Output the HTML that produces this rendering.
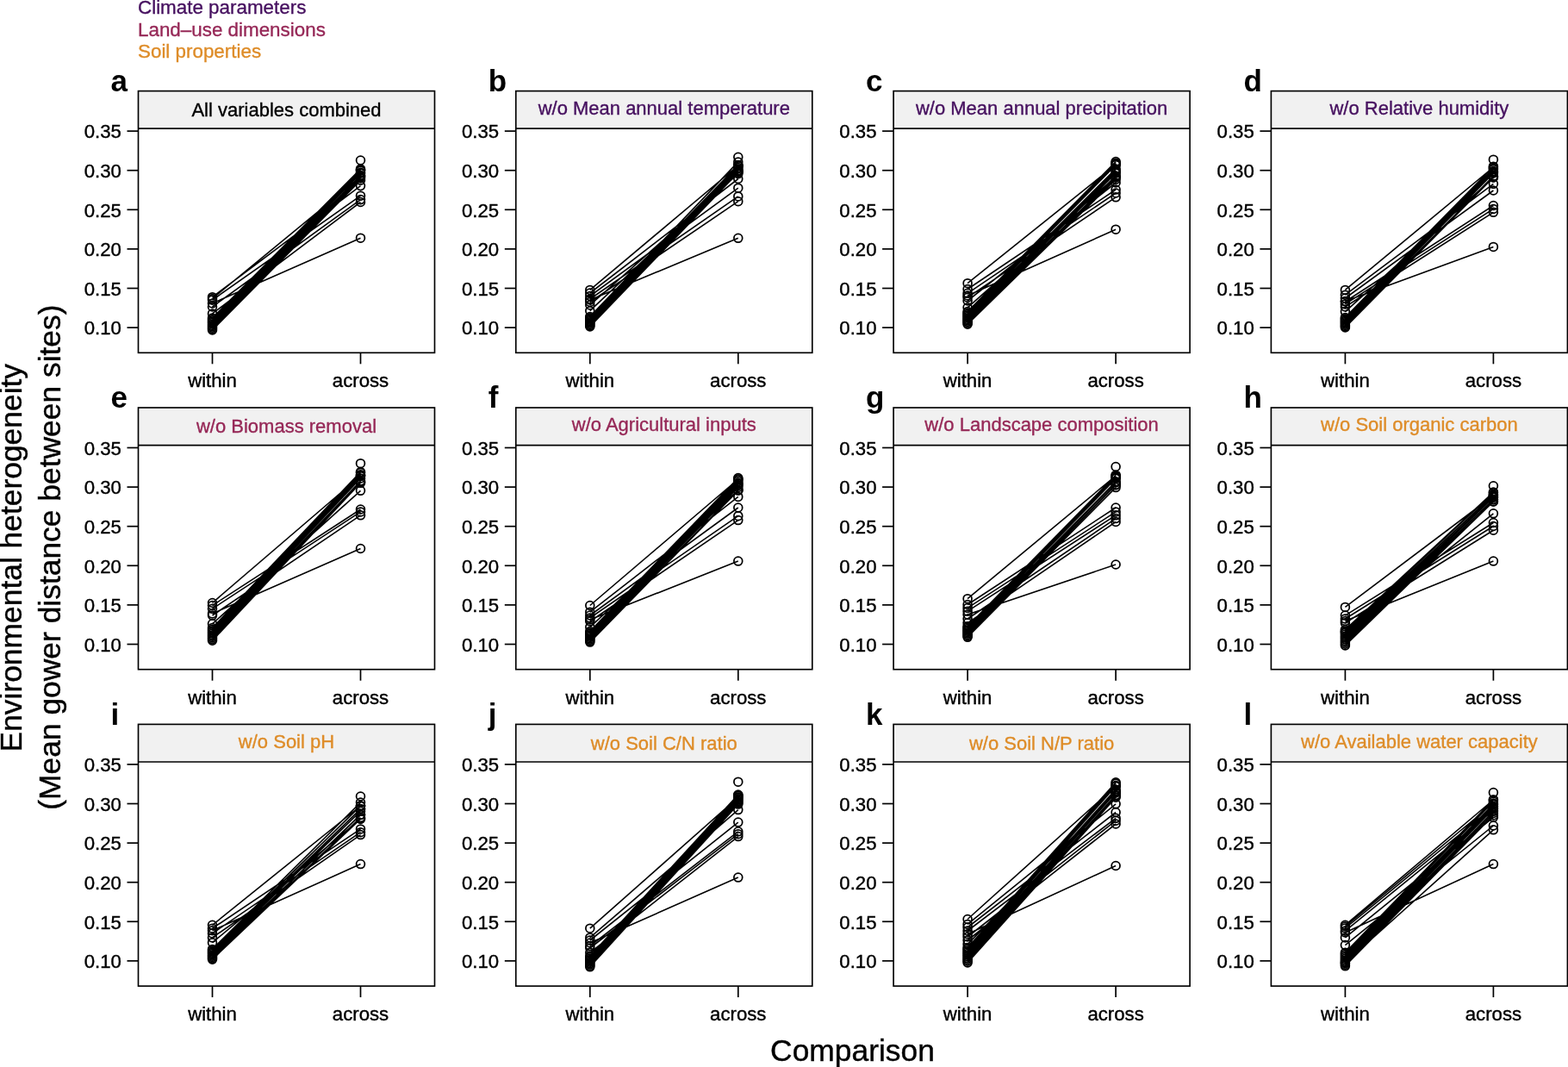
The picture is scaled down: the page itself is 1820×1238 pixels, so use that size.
<!DOCTYPE html>
<html><head><meta charset="utf-8"><title>Environmental heterogeneity</title>
<style>
html,body{margin:0;padding:0;background:#fff;}
body{width:1820px;height:1238px;overflow:hidden;}
svg{display:block;}
text{font-family:"Liberation Sans",Arial,Helvetica,sans-serif;}
.tk{font-size:22.2px;fill:#000;stroke:#000;stroke-width:0.4px;}
.st{font-size:22px;stroke-width:0.35px;}
.pl{font-size:35px;font-weight:bold;fill:#000;}
.ax{font-size:35.4px;fill:#000;stroke:#000;stroke-width:0.4px;}
.lg{font-size:22.4px;stroke-width:0.35px;}
.fr{fill:none;stroke:#000;stroke-width:1.65;}
.dl{stroke:#000;stroke-width:1.6;fill:none;}
.pt{fill:none;stroke:#000;stroke-width:1.75;}
</style></head><body>
<svg width="1820" height="1238" viewBox="0 0 1820 1238">
<rect x="0" y="0" width="1820" height="1238" fill="#fff"/>

<text class="lg" x="160" y="16.2" fill="#46105f" stroke="#46105f">Climate parameters</text>
<text class="lg" x="160" y="41.8" fill="#962857" stroke="#962857">Land–use dimensions</text>
<text class="lg" x="160" y="66.6" fill="#de8c28" stroke="#de8c28">Soil properties</text>
<g><rect x="160.5" y="105.6" width="344" height="43.6" fill="#f1f1f1"/><text class="st" x="332.5" y="135" text-anchor="middle" fill="#000" stroke="#000">All variables combined</text><text class="pl" x="128.5" y="105.9">a</text><line x1="147.5" y1="380.1" x2="160.5" y2="380.1" stroke="#000" stroke-width="1.7"/><text class="tk" x="140.9" y="388.4" text-anchor="end">0.10</text><line x1="147.5" y1="334.5" x2="160.5" y2="334.5" stroke="#000" stroke-width="1.7"/><text class="tk" x="140.9" y="342.8" text-anchor="end">0.15</text><line x1="147.5" y1="288.9" x2="160.5" y2="288.9" stroke="#000" stroke-width="1.7"/><text class="tk" x="140.9" y="297.2" text-anchor="end">0.20</text><line x1="147.5" y1="243.3" x2="160.5" y2="243.3" stroke="#000" stroke-width="1.7"/><text class="tk" x="140.9" y="251.6" text-anchor="end">0.25</text><line x1="147.5" y1="197.7" x2="160.5" y2="197.7" stroke="#000" stroke-width="1.7"/><text class="tk" x="140.9" y="206" text-anchor="end">0.30</text><line x1="147.5" y1="152.1" x2="160.5" y2="152.1" stroke="#000" stroke-width="1.7"/><text class="tk" x="140.9" y="160.4" text-anchor="end">0.35</text><line x1="246.5" y1="409.3" x2="246.5" y2="422.3" stroke="#000" stroke-width="1.7"/><text class="tk" x="246.5" y="449.4" text-anchor="middle">within</text><line x1="418.5" y1="409.3" x2="418.5" y2="422.3" stroke="#000" stroke-width="1.7"/><text class="tk" x="418.5" y="449.4" text-anchor="middle">across</text><path class="dl" d="M246.5 344.7L418.5 215.6M246.5 348.1L418.5 227.2M246.5 352L418.5 276.2M246.5 356L418.5 231.6M246.5 363.9L418.5 234.5M246.5 346.5L418.5 205M246.5 369L418.5 196M246.5 370.4L418.5 197.1M246.5 371.8L418.5 197.4M246.5 373.2L418.5 198.2M246.5 374.6L418.5 200.2M246.5 376L418.5 201.2M246.5 377.4L418.5 203.7M246.5 378.8L418.5 203.5M246.5 380.2L418.5 205.3M246.5 381.6L418.5 207M246.5 383L418.5 209.2"/><g class="pt"><circle cx="246.5" cy="344.7" r="4.9"/><circle cx="418.5" cy="215.6" r="4.9"/><circle cx="246.5" cy="348.1" r="4.9"/><circle cx="418.5" cy="227.2" r="4.9"/><circle cx="246.5" cy="352" r="4.9"/><circle cx="418.5" cy="276.2" r="4.9"/><circle cx="246.5" cy="356" r="4.9"/><circle cx="418.5" cy="231.6" r="4.9"/><circle cx="246.5" cy="363.9" r="4.9"/><circle cx="418.5" cy="234.5" r="4.9"/><circle cx="246.5" cy="346.5" r="4.9"/><circle cx="418.5" cy="205" r="4.9"/><circle cx="246.5" cy="369" r="4.9"/><circle cx="418.5" cy="196" r="4.9"/><circle cx="246.5" cy="370.4" r="4.9"/><circle cx="418.5" cy="197.1" r="4.9"/><circle cx="246.5" cy="371.8" r="4.9"/><circle cx="418.5" cy="197.4" r="4.9"/><circle cx="246.5" cy="373.2" r="4.9"/><circle cx="418.5" cy="198.2" r="4.9"/><circle cx="246.5" cy="374.6" r="4.9"/><circle cx="418.5" cy="200.2" r="4.9"/><circle cx="246.5" cy="376" r="4.9"/><circle cx="418.5" cy="201.2" r="4.9"/><circle cx="246.5" cy="377.4" r="4.9"/><circle cx="418.5" cy="203.7" r="4.9"/><circle cx="246.5" cy="378.8" r="4.9"/><circle cx="418.5" cy="203.5" r="4.9"/><circle cx="246.5" cy="380.2" r="4.9"/><circle cx="418.5" cy="205.3" r="4.9"/><circle cx="246.5" cy="381.6" r="4.9"/><circle cx="418.5" cy="207" r="4.9"/><circle cx="246.5" cy="383" r="4.9"/><circle cx="418.5" cy="209.2" r="4.9"/><circle cx="418.5" cy="186" r="4.9"/></g><rect class="fr" x="160.5" y="105.6" width="344" height="303.7"/><line x1="160.5" y1="149.2" x2="504.5" y2="149.2" stroke="#000" stroke-width="1.7"/></g>
<g><rect x="598.8" y="105.6" width="344" height="43.6" fill="#f1f1f1"/><text class="st" x="770.8" y="132.9" text-anchor="middle" fill="#46105f" stroke="#46105f">w/o Mean annual temperature</text><text class="pl" x="566.8" y="105.9">b</text><line x1="585.8" y1="380.1" x2="598.8" y2="380.1" stroke="#000" stroke-width="1.7"/><text class="tk" x="579.2" y="388.4" text-anchor="end">0.10</text><line x1="585.8" y1="334.5" x2="598.8" y2="334.5" stroke="#000" stroke-width="1.7"/><text class="tk" x="579.2" y="342.8" text-anchor="end">0.15</text><line x1="585.8" y1="288.9" x2="598.8" y2="288.9" stroke="#000" stroke-width="1.7"/><text class="tk" x="579.2" y="297.2" text-anchor="end">0.20</text><line x1="585.8" y1="243.3" x2="598.8" y2="243.3" stroke="#000" stroke-width="1.7"/><text class="tk" x="579.2" y="251.6" text-anchor="end">0.25</text><line x1="585.8" y1="197.7" x2="598.8" y2="197.7" stroke="#000" stroke-width="1.7"/><text class="tk" x="579.2" y="206" text-anchor="end">0.30</text><line x1="585.8" y1="152.1" x2="598.8" y2="152.1" stroke="#000" stroke-width="1.7"/><text class="tk" x="579.2" y="160.4" text-anchor="end">0.35</text><line x1="684.8" y1="409.3" x2="684.8" y2="422.3" stroke="#000" stroke-width="1.7"/><text class="tk" x="684.8" y="449.4" text-anchor="middle">within</text><line x1="856.8" y1="409.3" x2="856.8" y2="422.3" stroke="#000" stroke-width="1.7"/><text class="tk" x="856.8" y="449.4" text-anchor="middle">across</text><path class="dl" d="M684.8 336.4L856.8 192M684.8 340L856.8 207.5M684.8 343.5L856.8 218.2M684.8 347L856.8 227.9M684.8 350.5L856.8 233.7M684.8 348L856.8 276.3M684.8 354L856.8 201.7M684.8 360.7L856.8 198M684.8 367.4L856.8 187.9M684.8 368.7L856.8 191.5M684.8 370L856.8 192.6M684.8 371.3L856.8 192.5M684.8 372.6L856.8 194.6M684.8 373.8L856.8 195.9M684.8 375.1L856.8 197.9M684.8 376.4L856.8 199.7M684.8 377.7L856.8 199.1M684.8 379L856.8 200.3"/><g class="pt"><circle cx="684.8" cy="336.4" r="4.9"/><circle cx="856.8" cy="192" r="4.9"/><circle cx="684.8" cy="340" r="4.9"/><circle cx="856.8" cy="207.5" r="4.9"/><circle cx="684.8" cy="343.5" r="4.9"/><circle cx="856.8" cy="218.2" r="4.9"/><circle cx="684.8" cy="347" r="4.9"/><circle cx="856.8" cy="227.9" r="4.9"/><circle cx="684.8" cy="350.5" r="4.9"/><circle cx="856.8" cy="233.7" r="4.9"/><circle cx="684.8" cy="348" r="4.9"/><circle cx="856.8" cy="276.3" r="4.9"/><circle cx="684.8" cy="354" r="4.9"/><circle cx="856.8" cy="201.7" r="4.9"/><circle cx="684.8" cy="360.7" r="4.9"/><circle cx="856.8" cy="198" r="4.9"/><circle cx="684.8" cy="367.4" r="4.9"/><circle cx="856.8" cy="187.9" r="4.9"/><circle cx="684.8" cy="368.7" r="4.9"/><circle cx="856.8" cy="191.5" r="4.9"/><circle cx="684.8" cy="370" r="4.9"/><circle cx="856.8" cy="192.6" r="4.9"/><circle cx="684.8" cy="371.3" r="4.9"/><circle cx="856.8" cy="192.5" r="4.9"/><circle cx="684.8" cy="372.6" r="4.9"/><circle cx="856.8" cy="194.6" r="4.9"/><circle cx="684.8" cy="373.8" r="4.9"/><circle cx="856.8" cy="195.9" r="4.9"/><circle cx="684.8" cy="375.1" r="4.9"/><circle cx="856.8" cy="197.9" r="4.9"/><circle cx="684.8" cy="376.4" r="4.9"/><circle cx="856.8" cy="199.7" r="4.9"/><circle cx="684.8" cy="377.7" r="4.9"/><circle cx="856.8" cy="199.1" r="4.9"/><circle cx="684.8" cy="379" r="4.9"/><circle cx="856.8" cy="200.3" r="4.9"/><circle cx="856.8" cy="182.3" r="4.9"/></g><rect class="fr" x="598.8" y="105.6" width="344" height="303.7"/><line x1="598.8" y1="149.2" x2="942.8" y2="149.2" stroke="#000" stroke-width="1.7"/></g>
<g><rect x="1037.1" y="105.6" width="344" height="43.6" fill="#f1f1f1"/><text class="st" x="1209.1" y="132.9" text-anchor="middle" fill="#46105f" stroke="#46105f">w/o Mean annual precipitation</text><text class="pl" x="1005.1" y="105.9">c</text><line x1="1024.1" y1="380.1" x2="1037.1" y2="380.1" stroke="#000" stroke-width="1.7"/><text class="tk" x="1017.5" y="388.4" text-anchor="end">0.10</text><line x1="1024.1" y1="334.5" x2="1037.1" y2="334.5" stroke="#000" stroke-width="1.7"/><text class="tk" x="1017.5" y="342.8" text-anchor="end">0.15</text><line x1="1024.1" y1="288.9" x2="1037.1" y2="288.9" stroke="#000" stroke-width="1.7"/><text class="tk" x="1017.5" y="297.2" text-anchor="end">0.20</text><line x1="1024.1" y1="243.3" x2="1037.1" y2="243.3" stroke="#000" stroke-width="1.7"/><text class="tk" x="1017.5" y="251.6" text-anchor="end">0.25</text><line x1="1024.1" y1="197.7" x2="1037.1" y2="197.7" stroke="#000" stroke-width="1.7"/><text class="tk" x="1017.5" y="206" text-anchor="end">0.30</text><line x1="1024.1" y1="152.1" x2="1037.1" y2="152.1" stroke="#000" stroke-width="1.7"/><text class="tk" x="1017.5" y="160.4" text-anchor="end">0.35</text><line x1="1123.1" y1="409.3" x2="1123.1" y2="422.3" stroke="#000" stroke-width="1.7"/><text class="tk" x="1123.1" y="449.4" text-anchor="middle">within</text><line x1="1295.1" y1="409.3" x2="1295.1" y2="422.3" stroke="#000" stroke-width="1.7"/><text class="tk" x="1295.1" y="449.4" text-anchor="middle">across</text><path class="dl" d="M1123.1 328.7L1295.1 191M1123.1 335.5L1295.1 220M1123.1 340.3L1295.1 224M1123.1 345.2L1295.1 228.8M1123.1 349L1295.1 212M1123.1 343L1295.1 266.2M1123.1 356.8L1295.1 205M1123.1 361.6L1295.1 187.6M1123.1 363.1L1295.1 189.7M1123.1 364.5L1295.1 189.2M1123.1 366L1295.1 191.5M1123.1 367.4L1295.1 195.9M1123.1 368.9L1295.1 197.8M1123.1 370.4L1295.1 199.8M1123.1 371.8L1295.1 200.9M1123.1 373.3L1295.1 204M1123.1 374.7L1295.1 206.1M1123.1 376.2L1295.1 208.2"/><g class="pt"><circle cx="1123.1" cy="328.7" r="4.9"/><circle cx="1295.1" cy="191" r="4.9"/><circle cx="1123.1" cy="335.5" r="4.9"/><circle cx="1295.1" cy="220" r="4.9"/><circle cx="1123.1" cy="340.3" r="4.9"/><circle cx="1295.1" cy="224" r="4.9"/><circle cx="1123.1" cy="345.2" r="4.9"/><circle cx="1295.1" cy="228.8" r="4.9"/><circle cx="1123.1" cy="349" r="4.9"/><circle cx="1295.1" cy="212" r="4.9"/><circle cx="1123.1" cy="343" r="4.9"/><circle cx="1295.1" cy="266.2" r="4.9"/><circle cx="1123.1" cy="356.8" r="4.9"/><circle cx="1295.1" cy="205" r="4.9"/><circle cx="1123.1" cy="361.6" r="4.9"/><circle cx="1295.1" cy="187.6" r="4.9"/><circle cx="1123.1" cy="363.1" r="4.9"/><circle cx="1295.1" cy="189.7" r="4.9"/><circle cx="1123.1" cy="364.5" r="4.9"/><circle cx="1295.1" cy="189.2" r="4.9"/><circle cx="1123.1" cy="366" r="4.9"/><circle cx="1295.1" cy="191.5" r="4.9"/><circle cx="1123.1" cy="367.4" r="4.9"/><circle cx="1295.1" cy="195.9" r="4.9"/><circle cx="1123.1" cy="368.9" r="4.9"/><circle cx="1295.1" cy="197.8" r="4.9"/><circle cx="1123.1" cy="370.4" r="4.9"/><circle cx="1295.1" cy="199.8" r="4.9"/><circle cx="1123.1" cy="371.8" r="4.9"/><circle cx="1295.1" cy="200.9" r="4.9"/><circle cx="1123.1" cy="373.3" r="4.9"/><circle cx="1295.1" cy="204" r="4.9"/><circle cx="1123.1" cy="374.7" r="4.9"/><circle cx="1295.1" cy="206.1" r="4.9"/><circle cx="1123.1" cy="376.2" r="4.9"/><circle cx="1295.1" cy="208.2" r="4.9"/></g><rect class="fr" x="1037.1" y="105.6" width="344" height="303.7"/><line x1="1037.1" y1="149.2" x2="1381.1" y2="149.2" stroke="#000" stroke-width="1.7"/></g>
<g><rect x="1475.4" y="105.6" width="344" height="43.6" fill="#f1f1f1"/><text class="st" x="1647.4" y="132.9" text-anchor="middle" fill="#46105f" stroke="#46105f">w/o Relative humidity</text><text class="pl" x="1443.4" y="105.9">d</text><line x1="1462.4" y1="380.1" x2="1475.4" y2="380.1" stroke="#000" stroke-width="1.7"/><text class="tk" x="1455.8" y="388.4" text-anchor="end">0.10</text><line x1="1462.4" y1="334.5" x2="1475.4" y2="334.5" stroke="#000" stroke-width="1.7"/><text class="tk" x="1455.8" y="342.8" text-anchor="end">0.15</text><line x1="1462.4" y1="288.9" x2="1475.4" y2="288.9" stroke="#000" stroke-width="1.7"/><text class="tk" x="1455.8" y="297.2" text-anchor="end">0.20</text><line x1="1462.4" y1="243.3" x2="1475.4" y2="243.3" stroke="#000" stroke-width="1.7"/><text class="tk" x="1455.8" y="251.6" text-anchor="end">0.25</text><line x1="1462.4" y1="197.7" x2="1475.4" y2="197.7" stroke="#000" stroke-width="1.7"/><text class="tk" x="1455.8" y="206" text-anchor="end">0.30</text><line x1="1462.4" y1="152.1" x2="1475.4" y2="152.1" stroke="#000" stroke-width="1.7"/><text class="tk" x="1455.8" y="160.4" text-anchor="end">0.35</text><line x1="1561.4" y1="409.3" x2="1561.4" y2="422.3" stroke="#000" stroke-width="1.7"/><text class="tk" x="1561.4" y="449.4" text-anchor="middle">within</text><line x1="1733.4" y1="409.3" x2="1733.4" y2="422.3" stroke="#000" stroke-width="1.7"/><text class="tk" x="1733.4" y="449.4" text-anchor="middle">across</text><path class="dl" d="M1561.4 336.4L1733.4 194M1561.4 342.2L1733.4 213.3M1561.4 346L1733.4 221M1561.4 349.4L1733.4 286.4M1561.4 350L1733.4 238.5M1561.4 352.9L1733.4 242.4M1561.4 356L1733.4 246.3M1561.4 361.6L1733.4 206M1561.4 368.4L1733.4 193.2M1561.4 369.7L1733.4 195.5M1561.4 371L1733.4 196.4M1561.4 372.3L1733.4 198.5M1561.4 373.6L1733.4 199.9M1561.4 374.8L1733.4 199.6M1561.4 376.1L1733.4 200.9M1561.4 377.4L1733.4 204.7M1561.4 378.7L1733.4 204.4M1561.4 380L1733.4 205.7"/><g class="pt"><circle cx="1561.4" cy="336.4" r="4.9"/><circle cx="1733.4" cy="194" r="4.9"/><circle cx="1561.4" cy="342.2" r="4.9"/><circle cx="1733.4" cy="213.3" r="4.9"/><circle cx="1561.4" cy="346" r="4.9"/><circle cx="1733.4" cy="221" r="4.9"/><circle cx="1561.4" cy="349.4" r="4.9"/><circle cx="1733.4" cy="286.4" r="4.9"/><circle cx="1561.4" cy="350" r="4.9"/><circle cx="1733.4" cy="238.5" r="4.9"/><circle cx="1561.4" cy="352.9" r="4.9"/><circle cx="1733.4" cy="242.4" r="4.9"/><circle cx="1561.4" cy="356" r="4.9"/><circle cx="1733.4" cy="246.3" r="4.9"/><circle cx="1561.4" cy="361.6" r="4.9"/><circle cx="1733.4" cy="206" r="4.9"/><circle cx="1561.4" cy="368.4" r="4.9"/><circle cx="1733.4" cy="193.2" r="4.9"/><circle cx="1561.4" cy="369.7" r="4.9"/><circle cx="1733.4" cy="195.5" r="4.9"/><circle cx="1561.4" cy="371" r="4.9"/><circle cx="1733.4" cy="196.4" r="4.9"/><circle cx="1561.4" cy="372.3" r="4.9"/><circle cx="1733.4" cy="198.5" r="4.9"/><circle cx="1561.4" cy="373.6" r="4.9"/><circle cx="1733.4" cy="199.9" r="4.9"/><circle cx="1561.4" cy="374.8" r="4.9"/><circle cx="1733.4" cy="199.6" r="4.9"/><circle cx="1561.4" cy="376.1" r="4.9"/><circle cx="1733.4" cy="200.9" r="4.9"/><circle cx="1561.4" cy="377.4" r="4.9"/><circle cx="1733.4" cy="204.7" r="4.9"/><circle cx="1561.4" cy="378.7" r="4.9"/><circle cx="1733.4" cy="204.4" r="4.9"/><circle cx="1561.4" cy="380" r="4.9"/><circle cx="1733.4" cy="205.7" r="4.9"/><circle cx="1733.4" cy="185.2" r="4.9"/></g><rect class="fr" x="1475.4" y="105.6" width="344" height="303.7"/><line x1="1475.4" y1="149.2" x2="1819.4" y2="149.2" stroke="#000" stroke-width="1.7"/></g>
<g><rect x="160.5" y="473" width="344" height="43.6" fill="#f1f1f1"/><text class="st" x="332.5" y="502.4" text-anchor="middle" fill="#962857" stroke="#962857">w/o Biomass removal</text><text class="pl" x="128.5" y="473.3">e</text><line x1="147.5" y1="747.5" x2="160.5" y2="747.5" stroke="#000" stroke-width="1.7"/><text class="tk" x="140.9" y="755.8" text-anchor="end">0.10</text><line x1="147.5" y1="701.9" x2="160.5" y2="701.9" stroke="#000" stroke-width="1.7"/><text class="tk" x="140.9" y="710.2" text-anchor="end">0.15</text><line x1="147.5" y1="656.3" x2="160.5" y2="656.3" stroke="#000" stroke-width="1.7"/><text class="tk" x="140.9" y="664.6" text-anchor="end">0.20</text><line x1="147.5" y1="610.7" x2="160.5" y2="610.7" stroke="#000" stroke-width="1.7"/><text class="tk" x="140.9" y="619" text-anchor="end">0.25</text><line x1="147.5" y1="565.1" x2="160.5" y2="565.1" stroke="#000" stroke-width="1.7"/><text class="tk" x="140.9" y="573.4" text-anchor="end">0.30</text><line x1="147.5" y1="519.5" x2="160.5" y2="519.5" stroke="#000" stroke-width="1.7"/><text class="tk" x="140.9" y="527.8" text-anchor="end">0.35</text><line x1="246.5" y1="776.7" x2="246.5" y2="789.7" stroke="#000" stroke-width="1.7"/><text class="tk" x="246.5" y="816.8" text-anchor="middle">within</text><line x1="418.5" y1="776.7" x2="418.5" y2="789.7" stroke="#000" stroke-width="1.7"/><text class="tk" x="418.5" y="816.8" text-anchor="middle">across</text><path class="dl" d="M246.5 699.5L418.5 552M246.5 702.5L418.5 591M246.5 706.3L418.5 593.9M246.5 712L418.5 636.5M246.5 714.1L418.5 597.8M246.5 723.8L418.5 569.3M246.5 728.6L418.5 547.5M246.5 730.2L418.5 548.5M246.5 731.8L418.5 550.8M246.5 733.5L418.5 551.5M246.5 735.1L418.5 552.6M246.5 736.7L418.5 555M246.5 738.3L418.5 558M246.5 740L418.5 559M246.5 741.6L418.5 560.3M246.5 743.2L418.5 560.1"/><g class="pt"><circle cx="246.5" cy="699.5" r="4.9"/><circle cx="418.5" cy="552" r="4.9"/><circle cx="246.5" cy="702.5" r="4.9"/><circle cx="418.5" cy="591" r="4.9"/><circle cx="246.5" cy="706.3" r="4.9"/><circle cx="418.5" cy="593.9" r="4.9"/><circle cx="246.5" cy="712" r="4.9"/><circle cx="418.5" cy="636.5" r="4.9"/><circle cx="246.5" cy="714.1" r="4.9"/><circle cx="418.5" cy="597.8" r="4.9"/><circle cx="246.5" cy="723.8" r="4.9"/><circle cx="418.5" cy="569.3" r="4.9"/><circle cx="246.5" cy="728.6" r="4.9"/><circle cx="418.5" cy="547.5" r="4.9"/><circle cx="246.5" cy="730.2" r="4.9"/><circle cx="418.5" cy="548.5" r="4.9"/><circle cx="246.5" cy="731.8" r="4.9"/><circle cx="418.5" cy="550.8" r="4.9"/><circle cx="246.5" cy="733.5" r="4.9"/><circle cx="418.5" cy="551.5" r="4.9"/><circle cx="246.5" cy="735.1" r="4.9"/><circle cx="418.5" cy="552.6" r="4.9"/><circle cx="246.5" cy="736.7" r="4.9"/><circle cx="418.5" cy="555" r="4.9"/><circle cx="246.5" cy="738.3" r="4.9"/><circle cx="418.5" cy="558" r="4.9"/><circle cx="246.5" cy="740" r="4.9"/><circle cx="418.5" cy="559" r="4.9"/><circle cx="246.5" cy="741.6" r="4.9"/><circle cx="418.5" cy="560.3" r="4.9"/><circle cx="246.5" cy="743.2" r="4.9"/><circle cx="418.5" cy="560.1" r="4.9"/><circle cx="418.5" cy="537.7" r="4.9"/></g><rect class="fr" x="160.5" y="473" width="344" height="303.7"/><line x1="160.5" y1="516.6" x2="504.5" y2="516.6" stroke="#000" stroke-width="1.7"/></g>
<g><rect x="598.8" y="473" width="344" height="43.6" fill="#f1f1f1"/><text class="st" x="770.8" y="500.3" text-anchor="middle" fill="#962857" stroke="#962857">w/o Agricultural inputs</text><text class="pl" x="566.8" y="473.3">f</text><line x1="585.8" y1="747.5" x2="598.8" y2="747.5" stroke="#000" stroke-width="1.7"/><text class="tk" x="579.2" y="755.8" text-anchor="end">0.10</text><line x1="585.8" y1="701.9" x2="598.8" y2="701.9" stroke="#000" stroke-width="1.7"/><text class="tk" x="579.2" y="710.2" text-anchor="end">0.15</text><line x1="585.8" y1="656.3" x2="598.8" y2="656.3" stroke="#000" stroke-width="1.7"/><text class="tk" x="579.2" y="664.6" text-anchor="end">0.20</text><line x1="585.8" y1="610.7" x2="598.8" y2="610.7" stroke="#000" stroke-width="1.7"/><text class="tk" x="579.2" y="619" text-anchor="end">0.25</text><line x1="585.8" y1="565.1" x2="598.8" y2="565.1" stroke="#000" stroke-width="1.7"/><text class="tk" x="579.2" y="573.4" text-anchor="end">0.30</text><line x1="585.8" y1="519.5" x2="598.8" y2="519.5" stroke="#000" stroke-width="1.7"/><text class="tk" x="579.2" y="527.8" text-anchor="end">0.35</text><line x1="684.8" y1="776.7" x2="684.8" y2="789.7" stroke="#000" stroke-width="1.7"/><text class="tk" x="684.8" y="816.8" text-anchor="middle">within</text><line x1="856.8" y1="776.7" x2="856.8" y2="789.7" stroke="#000" stroke-width="1.7"/><text class="tk" x="856.8" y="816.8" text-anchor="middle">across</text><path class="dl" d="M684.8 702.5L856.8 556M684.8 710.2L856.8 576.4M684.8 714L856.8 589M684.8 717L856.8 598.7M684.8 719L856.8 651.1M684.8 721L856.8 603.6M684.8 727.7L856.8 568.7M684.8 732.5L856.8 554.5M684.8 733.9L856.8 556.4M684.8 735.3L856.8 558.2M684.8 736.7L856.8 560.3M684.8 738.1L856.8 561.3M684.8 739.5L856.8 563.5M684.8 740.9L856.8 562.4M684.8 742.3L856.8 565.4M684.8 743.7L856.8 568.4M684.8 745.1L856.8 569.1"/><g class="pt"><circle cx="684.8" cy="702.5" r="4.9"/><circle cx="856.8" cy="556" r="4.9"/><circle cx="684.8" cy="710.2" r="4.9"/><circle cx="856.8" cy="576.4" r="4.9"/><circle cx="684.8" cy="714" r="4.9"/><circle cx="856.8" cy="589" r="4.9"/><circle cx="684.8" cy="717" r="4.9"/><circle cx="856.8" cy="598.7" r="4.9"/><circle cx="684.8" cy="719" r="4.9"/><circle cx="856.8" cy="651.1" r="4.9"/><circle cx="684.8" cy="721" r="4.9"/><circle cx="856.8" cy="603.6" r="4.9"/><circle cx="684.8" cy="727.7" r="4.9"/><circle cx="856.8" cy="568.7" r="4.9"/><circle cx="684.8" cy="732.5" r="4.9"/><circle cx="856.8" cy="554.5" r="4.9"/><circle cx="684.8" cy="733.9" r="4.9"/><circle cx="856.8" cy="556.4" r="4.9"/><circle cx="684.8" cy="735.3" r="4.9"/><circle cx="856.8" cy="558.2" r="4.9"/><circle cx="684.8" cy="736.7" r="4.9"/><circle cx="856.8" cy="560.3" r="4.9"/><circle cx="684.8" cy="738.1" r="4.9"/><circle cx="856.8" cy="561.3" r="4.9"/><circle cx="684.8" cy="739.5" r="4.9"/><circle cx="856.8" cy="563.5" r="4.9"/><circle cx="684.8" cy="740.9" r="4.9"/><circle cx="856.8" cy="562.4" r="4.9"/><circle cx="684.8" cy="742.3" r="4.9"/><circle cx="856.8" cy="565.4" r="4.9"/><circle cx="684.8" cy="743.7" r="4.9"/><circle cx="856.8" cy="568.4" r="4.9"/><circle cx="684.8" cy="745.1" r="4.9"/><circle cx="856.8" cy="569.1" r="4.9"/></g><rect class="fr" x="598.8" y="473" width="344" height="303.7"/><line x1="598.8" y1="516.6" x2="942.8" y2="516.6" stroke="#000" stroke-width="1.7"/></g>
<g><rect x="1037.1" y="473" width="344" height="43.6" fill="#f1f1f1"/><text class="st" x="1209.1" y="500.3" text-anchor="middle" fill="#962857" stroke="#962857">w/o Landscape composition</text><text class="pl" x="1005.1" y="473.3">g</text><line x1="1024.1" y1="747.5" x2="1037.1" y2="747.5" stroke="#000" stroke-width="1.7"/><text class="tk" x="1017.5" y="755.8" text-anchor="end">0.10</text><line x1="1024.1" y1="701.9" x2="1037.1" y2="701.9" stroke="#000" stroke-width="1.7"/><text class="tk" x="1017.5" y="710.2" text-anchor="end">0.15</text><line x1="1024.1" y1="656.3" x2="1037.1" y2="656.3" stroke="#000" stroke-width="1.7"/><text class="tk" x="1017.5" y="664.6" text-anchor="end">0.20</text><line x1="1024.1" y1="610.7" x2="1037.1" y2="610.7" stroke="#000" stroke-width="1.7"/><text class="tk" x="1017.5" y="619" text-anchor="end">0.25</text><line x1="1024.1" y1="565.1" x2="1037.1" y2="565.1" stroke="#000" stroke-width="1.7"/><text class="tk" x="1017.5" y="573.4" text-anchor="end">0.30</text><line x1="1024.1" y1="519.5" x2="1037.1" y2="519.5" stroke="#000" stroke-width="1.7"/><text class="tk" x="1017.5" y="527.8" text-anchor="end">0.35</text><line x1="1123.1" y1="776.7" x2="1123.1" y2="789.7" stroke="#000" stroke-width="1.7"/><text class="tk" x="1123.1" y="816.8" text-anchor="middle">within</text><line x1="1295.1" y1="776.7" x2="1295.1" y2="789.7" stroke="#000" stroke-width="1.7"/><text class="tk" x="1295.1" y="816.8" text-anchor="middle">across</text><path class="dl" d="M1123.1 694.7L1295.1 552M1123.1 701.5L1295.1 589M1123.1 705.4L1295.1 593.9M1123.1 709.2L1295.1 597.8M1123.1 713.1L1295.1 655M1123.1 718L1295.1 601.6M1123.1 722.8L1295.1 605.5M1123.1 726.7L1295.1 551.2M1123.1 728.1L1295.1 552.9M1123.1 729.5L1295.1 553.5M1123.1 730.9L1295.1 554.4M1123.1 732.3L1295.1 555.2M1123.1 733.7L1295.1 558.8M1123.1 735.1L1295.1 559.9M1123.1 736.5L1295.1 562.4M1123.1 737.9L1295.1 562.8M1123.1 739.3L1295.1 565.6"/><g class="pt"><circle cx="1123.1" cy="694.7" r="4.9"/><circle cx="1295.1" cy="552" r="4.9"/><circle cx="1123.1" cy="701.5" r="4.9"/><circle cx="1295.1" cy="589" r="4.9"/><circle cx="1123.1" cy="705.4" r="4.9"/><circle cx="1295.1" cy="593.9" r="4.9"/><circle cx="1123.1" cy="709.2" r="4.9"/><circle cx="1295.1" cy="597.8" r="4.9"/><circle cx="1123.1" cy="713.1" r="4.9"/><circle cx="1295.1" cy="655" r="4.9"/><circle cx="1123.1" cy="718" r="4.9"/><circle cx="1295.1" cy="601.6" r="4.9"/><circle cx="1123.1" cy="722.8" r="4.9"/><circle cx="1295.1" cy="605.5" r="4.9"/><circle cx="1123.1" cy="726.7" r="4.9"/><circle cx="1295.1" cy="551.2" r="4.9"/><circle cx="1123.1" cy="728.1" r="4.9"/><circle cx="1295.1" cy="552.9" r="4.9"/><circle cx="1123.1" cy="729.5" r="4.9"/><circle cx="1295.1" cy="553.5" r="4.9"/><circle cx="1123.1" cy="730.9" r="4.9"/><circle cx="1295.1" cy="554.4" r="4.9"/><circle cx="1123.1" cy="732.3" r="4.9"/><circle cx="1295.1" cy="555.2" r="4.9"/><circle cx="1123.1" cy="733.7" r="4.9"/><circle cx="1295.1" cy="558.8" r="4.9"/><circle cx="1123.1" cy="735.1" r="4.9"/><circle cx="1295.1" cy="559.9" r="4.9"/><circle cx="1123.1" cy="736.5" r="4.9"/><circle cx="1295.1" cy="562.4" r="4.9"/><circle cx="1123.1" cy="737.9" r="4.9"/><circle cx="1295.1" cy="562.8" r="4.9"/><circle cx="1123.1" cy="739.3" r="4.9"/><circle cx="1295.1" cy="565.6" r="4.9"/><circle cx="1295.1" cy="541.5" r="4.9"/></g><rect class="fr" x="1037.1" y="473" width="344" height="303.7"/><line x1="1037.1" y1="516.6" x2="1381.1" y2="516.6" stroke="#000" stroke-width="1.7"/></g>
<g><rect x="1475.4" y="473" width="344" height="43.6" fill="#f1f1f1"/><text class="st" x="1647.4" y="500.3" text-anchor="middle" fill="#de8c28" stroke="#de8c28">w/o Soil organic carbon</text><text class="pl" x="1443.4" y="473.3">h</text><line x1="1462.4" y1="747.5" x2="1475.4" y2="747.5" stroke="#000" stroke-width="1.7"/><text class="tk" x="1455.8" y="755.8" text-anchor="end">0.10</text><line x1="1462.4" y1="701.9" x2="1475.4" y2="701.9" stroke="#000" stroke-width="1.7"/><text class="tk" x="1455.8" y="710.2" text-anchor="end">0.15</text><line x1="1462.4" y1="656.3" x2="1475.4" y2="656.3" stroke="#000" stroke-width="1.7"/><text class="tk" x="1455.8" y="664.6" text-anchor="end">0.20</text><line x1="1462.4" y1="610.7" x2="1475.4" y2="610.7" stroke="#000" stroke-width="1.7"/><text class="tk" x="1455.8" y="619" text-anchor="end">0.25</text><line x1="1462.4" y1="565.1" x2="1475.4" y2="565.1" stroke="#000" stroke-width="1.7"/><text class="tk" x="1455.8" y="573.4" text-anchor="end">0.30</text><line x1="1462.4" y1="519.5" x2="1475.4" y2="519.5" stroke="#000" stroke-width="1.7"/><text class="tk" x="1455.8" y="527.8" text-anchor="end">0.35</text><line x1="1561.4" y1="776.7" x2="1561.4" y2="789.7" stroke="#000" stroke-width="1.7"/><text class="tk" x="1561.4" y="816.8" text-anchor="middle">within</text><line x1="1733.4" y1="776.7" x2="1733.4" y2="789.7" stroke="#000" stroke-width="1.7"/><text class="tk" x="1733.4" y="816.8" text-anchor="middle">across</text><path class="dl" d="M1561.4 704.4L1733.4 575M1561.4 714.1L1733.4 606.5M1561.4 718L1733.4 610.5M1561.4 720.5L1733.4 651.1M1561.4 722.8L1733.4 615.2M1561.4 733L1733.4 595.8M1561.4 730.6L1733.4 571.1M1561.4 732.4L1733.4 571.7M1561.4 734.3L1733.4 574.4M1561.4 736.1L1733.4 573.8M1561.4 738L1733.4 576.3M1561.4 739.8L1733.4 577M1561.4 741.6L1733.4 577.2M1561.4 743.5L1733.4 579.7M1561.4 745.3L1733.4 579.5M1561.4 747.2L1733.4 581.8M1561.4 749L1733.4 581.9"/><g class="pt"><circle cx="1561.4" cy="704.4" r="4.9"/><circle cx="1733.4" cy="575" r="4.9"/><circle cx="1561.4" cy="714.1" r="4.9"/><circle cx="1733.4" cy="606.5" r="4.9"/><circle cx="1561.4" cy="718" r="4.9"/><circle cx="1733.4" cy="610.5" r="4.9"/><circle cx="1561.4" cy="720.5" r="4.9"/><circle cx="1733.4" cy="651.1" r="4.9"/><circle cx="1561.4" cy="722.8" r="4.9"/><circle cx="1733.4" cy="615.2" r="4.9"/><circle cx="1561.4" cy="733" r="4.9"/><circle cx="1733.4" cy="595.8" r="4.9"/><circle cx="1561.4" cy="730.6" r="4.9"/><circle cx="1733.4" cy="571.1" r="4.9"/><circle cx="1561.4" cy="732.4" r="4.9"/><circle cx="1733.4" cy="571.7" r="4.9"/><circle cx="1561.4" cy="734.3" r="4.9"/><circle cx="1733.4" cy="574.4" r="4.9"/><circle cx="1561.4" cy="736.1" r="4.9"/><circle cx="1733.4" cy="573.8" r="4.9"/><circle cx="1561.4" cy="738" r="4.9"/><circle cx="1733.4" cy="576.3" r="4.9"/><circle cx="1561.4" cy="739.8" r="4.9"/><circle cx="1733.4" cy="577" r="4.9"/><circle cx="1561.4" cy="741.6" r="4.9"/><circle cx="1733.4" cy="577.2" r="4.9"/><circle cx="1561.4" cy="743.5" r="4.9"/><circle cx="1733.4" cy="579.7" r="4.9"/><circle cx="1561.4" cy="745.3" r="4.9"/><circle cx="1733.4" cy="579.5" r="4.9"/><circle cx="1561.4" cy="747.2" r="4.9"/><circle cx="1733.4" cy="581.8" r="4.9"/><circle cx="1561.4" cy="749" r="4.9"/><circle cx="1733.4" cy="581.9" r="4.9"/><circle cx="1733.4" cy="563.8" r="4.9"/></g><rect class="fr" x="1475.4" y="473" width="344" height="303.7"/><line x1="1475.4" y1="516.6" x2="1819.4" y2="516.6" stroke="#000" stroke-width="1.7"/></g>
<g><rect x="160.5" y="840.4" width="344" height="43.6" fill="#f1f1f1"/><text class="st" x="332.5" y="867.7" text-anchor="middle" fill="#de8c28" stroke="#de8c28">w/o Soil pH</text><text class="pl" x="128.5" y="840.7">i</text><line x1="147.5" y1="1114.9" x2="160.5" y2="1114.9" stroke="#000" stroke-width="1.7"/><text class="tk" x="140.9" y="1123.2" text-anchor="end">0.10</text><line x1="147.5" y1="1069.3" x2="160.5" y2="1069.3" stroke="#000" stroke-width="1.7"/><text class="tk" x="140.9" y="1077.6" text-anchor="end">0.15</text><line x1="147.5" y1="1023.7" x2="160.5" y2="1023.7" stroke="#000" stroke-width="1.7"/><text class="tk" x="140.9" y="1032" text-anchor="end">0.20</text><line x1="147.5" y1="978.1" x2="160.5" y2="978.1" stroke="#000" stroke-width="1.7"/><text class="tk" x="140.9" y="986.4" text-anchor="end">0.25</text><line x1="147.5" y1="932.5" x2="160.5" y2="932.5" stroke="#000" stroke-width="1.7"/><text class="tk" x="140.9" y="940.8" text-anchor="end">0.30</text><line x1="147.5" y1="886.9" x2="160.5" y2="886.9" stroke="#000" stroke-width="1.7"/><text class="tk" x="140.9" y="895.2" text-anchor="end">0.35</text><line x1="246.5" y1="1144.1" x2="246.5" y2="1157.1" stroke="#000" stroke-width="1.7"/><text class="tk" x="246.5" y="1184.2" text-anchor="middle">within</text><line x1="418.5" y1="1144.1" x2="418.5" y2="1157.1" stroke="#000" stroke-width="1.7"/><text class="tk" x="418.5" y="1184.2" text-anchor="middle">across</text><path class="dl" d="M246.5 1073.3L418.5 935M246.5 1077.2L418.5 961.9M246.5 1079.7L418.5 1002.6M246.5 1083L418.5 965.7M246.5 1087.9L418.5 968.6M246.5 1093.7L418.5 950.2M246.5 1101.4L418.5 931M246.5 1102.7L418.5 935.2M246.5 1104L418.5 934.8M246.5 1105.3L418.5 938.5M246.5 1106.6L418.5 938.7M246.5 1107.9L418.5 941.3M246.5 1109.2L418.5 945.6M246.5 1110.5L418.5 945.2M246.5 1111.8L418.5 948.6M246.5 1113.1L418.5 950.1"/><g class="pt"><circle cx="246.5" cy="1073.3" r="4.9"/><circle cx="418.5" cy="935" r="4.9"/><circle cx="246.5" cy="1077.2" r="4.9"/><circle cx="418.5" cy="961.9" r="4.9"/><circle cx="246.5" cy="1079.7" r="4.9"/><circle cx="418.5" cy="1002.6" r="4.9"/><circle cx="246.5" cy="1083" r="4.9"/><circle cx="418.5" cy="965.7" r="4.9"/><circle cx="246.5" cy="1087.9" r="4.9"/><circle cx="418.5" cy="968.6" r="4.9"/><circle cx="246.5" cy="1093.7" r="4.9"/><circle cx="418.5" cy="950.2" r="4.9"/><circle cx="246.5" cy="1101.4" r="4.9"/><circle cx="418.5" cy="931" r="4.9"/><circle cx="246.5" cy="1102.7" r="4.9"/><circle cx="418.5" cy="935.2" r="4.9"/><circle cx="246.5" cy="1104" r="4.9"/><circle cx="418.5" cy="934.8" r="4.9"/><circle cx="246.5" cy="1105.3" r="4.9"/><circle cx="418.5" cy="938.5" r="4.9"/><circle cx="246.5" cy="1106.6" r="4.9"/><circle cx="418.5" cy="938.7" r="4.9"/><circle cx="246.5" cy="1107.9" r="4.9"/><circle cx="418.5" cy="941.3" r="4.9"/><circle cx="246.5" cy="1109.2" r="4.9"/><circle cx="418.5" cy="945.6" r="4.9"/><circle cx="246.5" cy="1110.5" r="4.9"/><circle cx="418.5" cy="945.2" r="4.9"/><circle cx="246.5" cy="1111.8" r="4.9"/><circle cx="418.5" cy="948.6" r="4.9"/><circle cx="246.5" cy="1113.1" r="4.9"/><circle cx="418.5" cy="950.1" r="4.9"/><circle cx="418.5" cy="924" r="4.9"/></g><rect class="fr" x="160.5" y="840.4" width="344" height="303.7"/><line x1="160.5" y1="884" x2="504.5" y2="884" stroke="#000" stroke-width="1.7"/></g>
<g><rect x="598.8" y="840.4" width="344" height="43.6" fill="#f1f1f1"/><text class="st" x="770.8" y="869.8" text-anchor="middle" fill="#de8c28" stroke="#de8c28">w/o Soil C/N ratio</text><text class="pl" x="566.8" y="840.7">j</text><line x1="585.8" y1="1114.9" x2="598.8" y2="1114.9" stroke="#000" stroke-width="1.7"/><text class="tk" x="579.2" y="1123.2" text-anchor="end">0.10</text><line x1="585.8" y1="1069.3" x2="598.8" y2="1069.3" stroke="#000" stroke-width="1.7"/><text class="tk" x="579.2" y="1077.6" text-anchor="end">0.15</text><line x1="585.8" y1="1023.7" x2="598.8" y2="1023.7" stroke="#000" stroke-width="1.7"/><text class="tk" x="579.2" y="1032" text-anchor="end">0.20</text><line x1="585.8" y1="978.1" x2="598.8" y2="978.1" stroke="#000" stroke-width="1.7"/><text class="tk" x="579.2" y="986.4" text-anchor="end">0.25</text><line x1="585.8" y1="932.5" x2="598.8" y2="932.5" stroke="#000" stroke-width="1.7"/><text class="tk" x="579.2" y="940.8" text-anchor="end">0.30</text><line x1="585.8" y1="886.9" x2="598.8" y2="886.9" stroke="#000" stroke-width="1.7"/><text class="tk" x="579.2" y="895.2" text-anchor="end">0.35</text><line x1="684.8" y1="1144.1" x2="684.8" y2="1157.1" stroke="#000" stroke-width="1.7"/><text class="tk" x="684.8" y="1184.2" text-anchor="middle">within</text><line x1="856.8" y1="1144.1" x2="856.8" y2="1157.1" stroke="#000" stroke-width="1.7"/><text class="tk" x="856.8" y="1184.2" text-anchor="middle">across</text><path class="dl" d="M684.8 1077.2L856.8 925M684.8 1087.9L856.8 939.6M684.8 1091L856.8 954.1M684.8 1094L856.8 1018.1M684.8 1097.6L856.8 964.8M684.8 1100L856.8 967.7M684.8 1105.3L856.8 970.6M684.8 1109.2L856.8 922M684.8 1110.6L856.8 922.9M684.8 1112L856.8 923.4M684.8 1113.4L856.8 926.8M684.8 1114.8L856.8 925.4M684.8 1116.2L856.8 928.1M684.8 1117.6L856.8 930.4M684.8 1119L856.8 929.2M684.8 1120.4L856.8 931.8M684.8 1121.8L856.8 933.1"/><g class="pt"><circle cx="684.8" cy="1077.2" r="4.9"/><circle cx="856.8" cy="925" r="4.9"/><circle cx="684.8" cy="1087.9" r="4.9"/><circle cx="856.8" cy="939.6" r="4.9"/><circle cx="684.8" cy="1091" r="4.9"/><circle cx="856.8" cy="954.1" r="4.9"/><circle cx="684.8" cy="1094" r="4.9"/><circle cx="856.8" cy="1018.1" r="4.9"/><circle cx="684.8" cy="1097.6" r="4.9"/><circle cx="856.8" cy="964.8" r="4.9"/><circle cx="684.8" cy="1100" r="4.9"/><circle cx="856.8" cy="967.7" r="4.9"/><circle cx="684.8" cy="1105.3" r="4.9"/><circle cx="856.8" cy="970.6" r="4.9"/><circle cx="684.8" cy="1109.2" r="4.9"/><circle cx="856.8" cy="922" r="4.9"/><circle cx="684.8" cy="1110.6" r="4.9"/><circle cx="856.8" cy="922.9" r="4.9"/><circle cx="684.8" cy="1112" r="4.9"/><circle cx="856.8" cy="923.4" r="4.9"/><circle cx="684.8" cy="1113.4" r="4.9"/><circle cx="856.8" cy="926.8" r="4.9"/><circle cx="684.8" cy="1114.8" r="4.9"/><circle cx="856.8" cy="925.4" r="4.9"/><circle cx="684.8" cy="1116.2" r="4.9"/><circle cx="856.8" cy="928.1" r="4.9"/><circle cx="684.8" cy="1117.6" r="4.9"/><circle cx="856.8" cy="930.4" r="4.9"/><circle cx="684.8" cy="1119" r="4.9"/><circle cx="856.8" cy="929.2" r="4.9"/><circle cx="684.8" cy="1120.4" r="4.9"/><circle cx="856.8" cy="931.8" r="4.9"/><circle cx="684.8" cy="1121.8" r="4.9"/><circle cx="856.8" cy="933.1" r="4.9"/><circle cx="856.8" cy="907.2" r="4.9"/></g><rect class="fr" x="598.8" y="840.4" width="344" height="303.7"/><line x1="598.8" y1="884" x2="942.8" y2="884" stroke="#000" stroke-width="1.7"/></g>
<g><rect x="1037.1" y="840.4" width="344" height="43.6" fill="#f1f1f1"/><text class="st" x="1209.1" y="869.8" text-anchor="middle" fill="#de8c28" stroke="#de8c28">w/o Soil N/P ratio</text><text class="pl" x="1005.1" y="840.7">k</text><line x1="1024.1" y1="1114.9" x2="1037.1" y2="1114.9" stroke="#000" stroke-width="1.7"/><text class="tk" x="1017.5" y="1123.2" text-anchor="end">0.10</text><line x1="1024.1" y1="1069.3" x2="1037.1" y2="1069.3" stroke="#000" stroke-width="1.7"/><text class="tk" x="1017.5" y="1077.6" text-anchor="end">0.15</text><line x1="1024.1" y1="1023.7" x2="1037.1" y2="1023.7" stroke="#000" stroke-width="1.7"/><text class="tk" x="1017.5" y="1032" text-anchor="end">0.20</text><line x1="1024.1" y1="978.1" x2="1037.1" y2="978.1" stroke="#000" stroke-width="1.7"/><text class="tk" x="1017.5" y="986.4" text-anchor="end">0.25</text><line x1="1024.1" y1="932.5" x2="1037.1" y2="932.5" stroke="#000" stroke-width="1.7"/><text class="tk" x="1017.5" y="940.8" text-anchor="end">0.30</text><line x1="1024.1" y1="886.9" x2="1037.1" y2="886.9" stroke="#000" stroke-width="1.7"/><text class="tk" x="1017.5" y="895.2" text-anchor="end">0.35</text><line x1="1123.1" y1="1144.1" x2="1123.1" y2="1157.1" stroke="#000" stroke-width="1.7"/><text class="tk" x="1123.1" y="1184.2" text-anchor="middle">within</text><line x1="1295.1" y1="1144.1" x2="1295.1" y2="1157.1" stroke="#000" stroke-width="1.7"/><text class="tk" x="1295.1" y="1184.2" text-anchor="middle">across</text><path class="dl" d="M1123.1 1066.5L1295.1 912M1123.1 1072.4L1295.1 932.8M1123.1 1076L1295.1 942.5M1123.1 1080L1295.1 949.3M1123.1 1083.8L1295.1 1004.5M1123.1 1087L1295.1 952.2M1123.1 1091L1295.1 956M1123.1 1095.6L1295.1 920M1123.1 1099.5L1295.1 907.8M1123.1 1101.2L1295.1 909.2M1123.1 1103L1295.1 911.5M1123.1 1104.8L1295.1 912.2M1123.1 1106.5L1295.1 915.9M1123.1 1108.2L1295.1 917.8M1123.1 1110L1295.1 919.1M1123.1 1111.8L1295.1 919.5M1123.1 1113.5L1295.1 922.4M1123.1 1115.2L1295.1 923.6M1123.1 1117L1295.1 925.2"/><g class="pt"><circle cx="1123.1" cy="1066.5" r="4.9"/><circle cx="1295.1" cy="912" r="4.9"/><circle cx="1123.1" cy="1072.4" r="4.9"/><circle cx="1295.1" cy="932.8" r="4.9"/><circle cx="1123.1" cy="1076" r="4.9"/><circle cx="1295.1" cy="942.5" r="4.9"/><circle cx="1123.1" cy="1080" r="4.9"/><circle cx="1295.1" cy="949.3" r="4.9"/><circle cx="1123.1" cy="1083.8" r="4.9"/><circle cx="1295.1" cy="1004.5" r="4.9"/><circle cx="1123.1" cy="1087" r="4.9"/><circle cx="1295.1" cy="952.2" r="4.9"/><circle cx="1123.1" cy="1091" r="4.9"/><circle cx="1295.1" cy="956" r="4.9"/><circle cx="1123.1" cy="1095.6" r="4.9"/><circle cx="1295.1" cy="920" r="4.9"/><circle cx="1123.1" cy="1099.5" r="4.9"/><circle cx="1295.1" cy="907.8" r="4.9"/><circle cx="1123.1" cy="1101.2" r="4.9"/><circle cx="1295.1" cy="909.2" r="4.9"/><circle cx="1123.1" cy="1103" r="4.9"/><circle cx="1295.1" cy="911.5" r="4.9"/><circle cx="1123.1" cy="1104.8" r="4.9"/><circle cx="1295.1" cy="912.2" r="4.9"/><circle cx="1123.1" cy="1106.5" r="4.9"/><circle cx="1295.1" cy="915.9" r="4.9"/><circle cx="1123.1" cy="1108.2" r="4.9"/><circle cx="1295.1" cy="917.8" r="4.9"/><circle cx="1123.1" cy="1110" r="4.9"/><circle cx="1295.1" cy="919.1" r="4.9"/><circle cx="1123.1" cy="1111.8" r="4.9"/><circle cx="1295.1" cy="919.5" r="4.9"/><circle cx="1123.1" cy="1113.5" r="4.9"/><circle cx="1295.1" cy="922.4" r="4.9"/><circle cx="1123.1" cy="1115.2" r="4.9"/><circle cx="1295.1" cy="923.6" r="4.9"/><circle cx="1123.1" cy="1117" r="4.9"/><circle cx="1295.1" cy="925.2" r="4.9"/></g><rect class="fr" x="1037.1" y="840.4" width="344" height="303.7"/><line x1="1037.1" y1="884" x2="1381.1" y2="884" stroke="#000" stroke-width="1.7"/></g>
<g><rect x="1475.4" y="840.4" width="344" height="43.6" fill="#f1f1f1"/><text class="st" x="1647.4" y="867.7" text-anchor="middle" fill="#de8c28" stroke="#de8c28">w/o Available water capacity</text><text class="pl" x="1443.4" y="840.7">l</text><line x1="1462.4" y1="1114.9" x2="1475.4" y2="1114.9" stroke="#000" stroke-width="1.7"/><text class="tk" x="1455.8" y="1123.2" text-anchor="end">0.10</text><line x1="1462.4" y1="1069.3" x2="1475.4" y2="1069.3" stroke="#000" stroke-width="1.7"/><text class="tk" x="1455.8" y="1077.6" text-anchor="end">0.15</text><line x1="1462.4" y1="1023.7" x2="1475.4" y2="1023.7" stroke="#000" stroke-width="1.7"/><text class="tk" x="1455.8" y="1032" text-anchor="end">0.20</text><line x1="1462.4" y1="978.1" x2="1475.4" y2="978.1" stroke="#000" stroke-width="1.7"/><text class="tk" x="1455.8" y="986.4" text-anchor="end">0.25</text><line x1="1462.4" y1="932.5" x2="1475.4" y2="932.5" stroke="#000" stroke-width="1.7"/><text class="tk" x="1455.8" y="940.8" text-anchor="end">0.30</text><line x1="1462.4" y1="886.9" x2="1475.4" y2="886.9" stroke="#000" stroke-width="1.7"/><text class="tk" x="1455.8" y="895.2" text-anchor="end">0.35</text><line x1="1561.4" y1="1144.1" x2="1561.4" y2="1157.1" stroke="#000" stroke-width="1.7"/><text class="tk" x="1561.4" y="1184.2" text-anchor="middle">within</text><line x1="1733.4" y1="1144.1" x2="1733.4" y2="1157.1" stroke="#000" stroke-width="1.7"/><text class="tk" x="1733.4" y="1184.2" text-anchor="middle">across</text><path class="dl" d="M1561.4 1073.3L1733.4 928M1561.4 1075L1733.4 932M1561.4 1077L1733.4 936M1561.4 1080.1L1733.4 940.5M1561.4 1081.9L1733.4 1002.6M1561.4 1087.9L1733.4 948.3M1561.4 1096.6L1733.4 958M1561.4 1117L1733.4 962.8M1561.4 1105.3L1733.4 927.9M1561.4 1107L1733.4 930.1M1561.4 1108.7L1733.4 933.1M1561.4 1110.5L1733.4 933.6M1561.4 1112.2L1733.4 935.6M1561.4 1113.9L1733.4 937.7M1561.4 1115.6L1733.4 938.4M1561.4 1117.4L1733.4 941.3M1561.4 1119.1L1733.4 943.5M1561.4 1120.8L1733.4 945.9"/><g class="pt"><circle cx="1561.4" cy="1073.3" r="4.9"/><circle cx="1733.4" cy="928" r="4.9"/><circle cx="1561.4" cy="1075" r="4.9"/><circle cx="1733.4" cy="932" r="4.9"/><circle cx="1561.4" cy="1077" r="4.9"/><circle cx="1733.4" cy="936" r="4.9"/><circle cx="1561.4" cy="1080.1" r="4.9"/><circle cx="1733.4" cy="940.5" r="4.9"/><circle cx="1561.4" cy="1081.9" r="4.9"/><circle cx="1733.4" cy="1002.6" r="4.9"/><circle cx="1561.4" cy="1087.9" r="4.9"/><circle cx="1733.4" cy="948.3" r="4.9"/><circle cx="1561.4" cy="1096.6" r="4.9"/><circle cx="1733.4" cy="958" r="4.9"/><circle cx="1561.4" cy="1117" r="4.9"/><circle cx="1733.4" cy="962.8" r="4.9"/><circle cx="1561.4" cy="1105.3" r="4.9"/><circle cx="1733.4" cy="927.9" r="4.9"/><circle cx="1561.4" cy="1107" r="4.9"/><circle cx="1733.4" cy="930.1" r="4.9"/><circle cx="1561.4" cy="1108.7" r="4.9"/><circle cx="1733.4" cy="933.1" r="4.9"/><circle cx="1561.4" cy="1110.5" r="4.9"/><circle cx="1733.4" cy="933.6" r="4.9"/><circle cx="1561.4" cy="1112.2" r="4.9"/><circle cx="1733.4" cy="935.6" r="4.9"/><circle cx="1561.4" cy="1113.9" r="4.9"/><circle cx="1733.4" cy="937.7" r="4.9"/><circle cx="1561.4" cy="1115.6" r="4.9"/><circle cx="1733.4" cy="938.4" r="4.9"/><circle cx="1561.4" cy="1117.4" r="4.9"/><circle cx="1733.4" cy="941.3" r="4.9"/><circle cx="1561.4" cy="1119.1" r="4.9"/><circle cx="1733.4" cy="943.5" r="4.9"/><circle cx="1561.4" cy="1120.8" r="4.9"/><circle cx="1733.4" cy="945.9" r="4.9"/><circle cx="1733.4" cy="919.6" r="4.9"/></g><rect class="fr" x="1475.4" y="840.4" width="344" height="303.7"/><line x1="1475.4" y1="884" x2="1819.4" y2="884" stroke="#000" stroke-width="1.7"/></g>
<text class="ax" x="989.5" y="1230.7" text-anchor="middle">Comparison</text>
<text class="ax" transform="translate(25.4 647.2) rotate(-90)" text-anchor="middle">Environmental heterogeneity</text>
<text class="ax" transform="translate(70.1 646.6) rotate(-90)" text-anchor="middle">(Mean gower distance between sites)</text>
</svg>
</body></html>
